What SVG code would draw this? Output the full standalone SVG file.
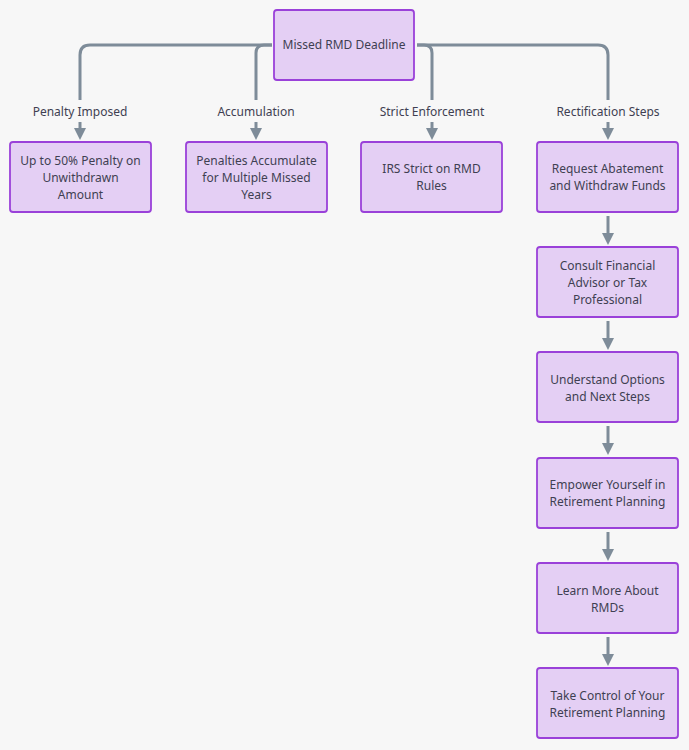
<svg xmlns="http://www.w3.org/2000/svg" width="689" height="750" viewBox="0 0 689 750">
<style>
.bg{fill:#f7f7f7}
.node rect{fill:#e4cff4;stroke:#9a41d9;stroke-width:1.8}
text{font-family:"Noto Sans","Liberation Sans",sans-serif;font-size:12px;fill:#3f3f52;text-anchor:middle}
.edge{fill:none;stroke:#7e8c99;stroke-width:3}
.lbl{fill:#f7f7f7}
</style>
<defs>
<marker id="ah" viewBox="0 0 10 10" refX="5" refY="5" markerWidth="4" markerHeight="4" orient="auto"><path d="M0,0 L10,5 L0,10 z" fill="#7e8c99"/></marker>
</defs>
<rect class="bg" width="689" height="750"/>
<g id="connectors">
<path class="edge" d="M272,45 H90 Q80,45 80,55 V100"/>
<path class="edge" d="M272,45 H264 Q256,45 256,53 V100"/>
<path class="edge" d="M417,45 H424 Q432,45 432,53 V100"/>
<path class="edge" d="M417,45 H598 Q608,45 608,55 V100"/>
<path class="edge" d="M80,122 V134" marker-end="url(#ah)"/>
<path class="edge" d="M256,122 V134" marker-end="url(#ah)"/>
<path class="edge" d="M432,122 V134" marker-end="url(#ah)"/>
<path class="edge" d="M608,122 V134" marker-end="url(#ah)"/>
<path class="edge" d="M608,216 V239" marker-end="url(#ah)"/>
<path class="edge" d="M608,321 V344" marker-end="url(#ah)"/>
<path class="edge" d="M608,426 V449" marker-end="url(#ah)"/>
<path class="edge" d="M608,532 V555" marker-end="url(#ah)"/>
<path class="edge" d="M608,637 V660" marker-end="url(#ah)"/>
<text x="80" y="116">Penalty Imposed</text>
<text x="256" y="116">Accumulation</text>
<text x="432" y="116">Strict Enforcement</text>
<text x="608" y="116">Rectification Steps</text>
</g>
<g id="n0" class="node"><rect x="274" y="10" width="140" height="70" rx="3"/><text x="344" y="49">Missed RMD Deadline</text></g>
<g id="n1" class="node"><rect x="10" y="142" width="141" height="70" rx="3"/><text x="80.5" y="165">Up to 50% Penalty on</text><text x="80.5" y="182">Unwithdrawn</text><text x="80.5" y="199">Amount</text></g>
<g id="n2" class="node"><rect x="186" y="142" width="141" height="70" rx="3"/><text x="256.5" y="165">Penalties Accumulate</text><text x="256.5" y="182">for Multiple Missed</text><text x="256.5" y="199">Years</text></g>
<g id="n3" class="node"><rect x="361" y="142" width="141" height="70" rx="3"/><text x="431.5" y="173">IRS Strict on RMD</text><text x="431.5" y="190">Rules</text></g>
<g id="n4" class="node"><rect x="537" y="142" width="141" height="70" rx="3"/><text x="607.5" y="173">Request Abatement</text><text x="607.5" y="190">and Withdraw Funds</text></g>
<g id="n5" class="node"><rect x="537" y="247" width="141" height="70" rx="3"/><text x="607.5" y="270">Consult Financial</text><text x="607.5" y="287">Advisor or Tax</text><text x="607.5" y="304">Professional</text></g>
<g id="n6" class="node"><rect x="537" y="352" width="141" height="70" rx="3"/><text x="607.5" y="384">Understand Options</text><text x="607.5" y="401">and Next Steps</text></g>
<g id="n7" class="node"><rect x="537" y="458" width="141" height="70" rx="3"/><text x="607.5" y="489">Empower Yourself in</text><text x="607.5" y="506">Retirement Planning</text></g>
<g id="n8" class="node"><rect x="537" y="563" width="141" height="70" rx="3"/><text x="607.5" y="595">Learn More About</text><text x="607.5" y="612">RMDs</text></g>
<g id="n9" class="node"><rect x="537" y="668" width="141" height="70" rx="3"/><text x="607.5" y="700">Take Control of Your</text><text x="607.5" y="717">Retirement Planning</text></g>
</svg>
